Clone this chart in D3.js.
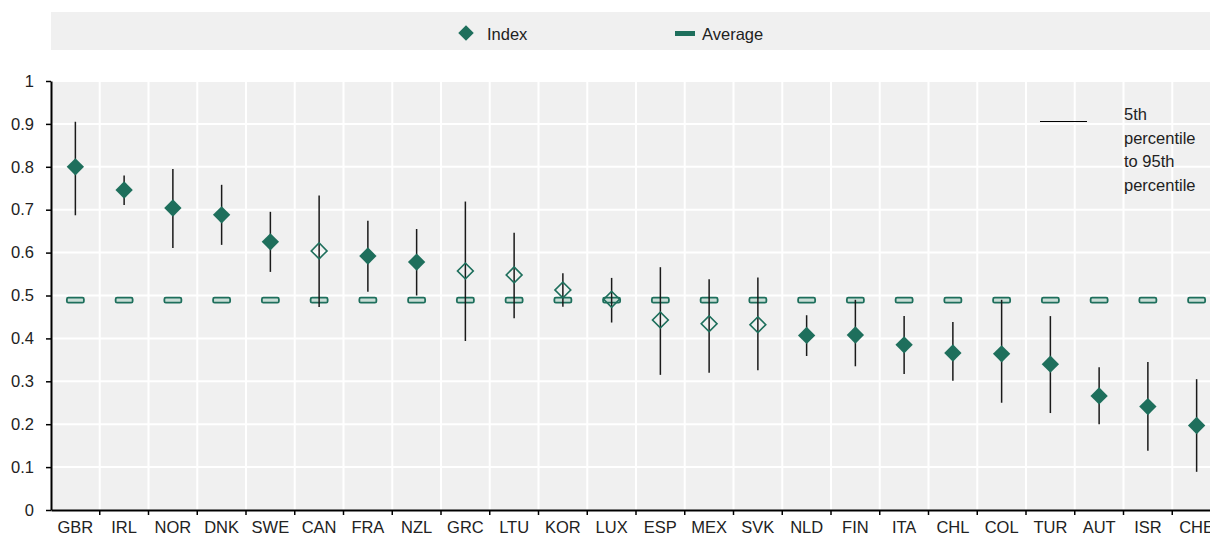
<!DOCTYPE html>
<html>
<head>
<meta charset="utf-8">
<script src="https://cdn.jsdelivr.net/npm/d3@7"></script>
<style>
  body { margin: 0; background: #fff; }
  svg { display: block; font-family: 'Liberation Sans', Arial, sans-serif; }
</style>
</head>
<body>
<svg id="chart" width="1210" height="536"></svg>
<script>
// countries, in the order shown
const countries = ['GBR', 'IRL', 'NOR', 'DNK', 'SWE', 'CAN', 'FRA', 'NZL', 'GRC', 'LTU', 'KOR', 'LUX',
  'ESP', 'MEX', 'SVK', 'NLD', 'FIN', 'ITA', 'CHL', 'COL', 'TUR', 'AUT', 'ISR', 'CHE']
const indexValues = [0.80, 0.746, 0.704, 0.688, 0.625, 0.604, 0.592, 0.578, 0.557, 0.548, 0.513, 0.491,
  0.443, 0.434, 0.432, 0.407, 0.408, 0.385, 0.366, 0.364, 0.340, 0.266, 0.241, 0.197]
const p5 = [0.687, 0.711, 0.611, 0.618, 0.555, 0.473, 0.509, 0.500, 0.394, 0.447, 0.474, 0.437,
  0.315, 0.320, 0.326, 0.359, 0.335, 0.317, 0.301, 0.250, 0.226, 0.200, 0.138, 0.089]
const p95 = [0.905, 0.780, 0.795, 0.758, 0.695, 0.733, 0.674, 0.655, 0.719, 0.646, 0.552, 0.541,
  0.566, 0.538, 0.542, 0.454, 0.490, 0.452, 0.438, 0.490, 0.452, 0.333, 0.345, 0.305]
// hollow marker = not significantly different from average
const hollow = ['CAN', 'GRC', 'LTU', 'KOR', 'LUX', 'ESP', 'MEX', 'SVK']
const average = 0.489
const yTicks = [0, 0.1, 0.2, 0.3, 0.4, 0.5, 0.6, 0.7, 0.8, 0.9, 1]

const green = '#1e6f5c'
const fs = 16.5
const data = countries.map((c, i) => ({ c, v: indexValues[i], lo: p5[i], hi: p95[i], hollow: hollow.includes(c) }))

const svg = d3.select('#chart')
const margin = { left: 51, top: 81, bottom: 26 }
const height = 536 - margin.top - margin.bottom

const x = d3.scaleBand().domain(countries).range([margin.left, margin.left + 24 * 48.75])
const y = d3.scaleLinear().domain([0, 1]).range([margin.top + height, margin.top])

// legend box
svg.append('rect').attr('x', 51).attr('y', 12).attr('width', 1159).attr('height', 38).attr('fill', '#f0f0f0')
svg.append('path').attr('d', d3.symbol().type(d3.symbolSquare).size(120)())
  .attr('transform', 'translate(466,33) rotate(45)').attr('fill', green)
svg.append('text').attr('x', 487).attr('y', 39.5).attr('font-size', fs).attr('fill', '#222').text('Index')
svg.append('rect').attr('x', 675).attr('y', 31).attr('width', 20).attr('height', 5).attr('fill', green)
svg.append('text').attr('x', 702).attr('y', 39.5).attr('font-size', fs).attr('fill', '#222').text('Average')

// plot background + grid
svg.append('rect').attr('x', margin.left).attr('y', margin.top)
  .attr('width', 1210 - margin.left).attr('height', height).attr('fill', '#f0f0f0')
svg.append('g').selectAll('line').data(yTicks.slice(1)).join('line')
  .attr('x1', margin.left).attr('x2', 1210)
  .attr('y1', d => y(d)).attr('y2', d => y(d))
  .attr('stroke', '#fff').attr('stroke-width', 2)
svg.append('g').selectAll('line').data(countries.slice(1)).join('line')
  .attr('x1', d => x(d)).attr('x2', d => x(d))
  .attr('y1', margin.top).attr('y2', margin.top + height)
  .attr('stroke', '#fff').attr('stroke-width', 2)

// percentile note
svg.append('line').attr('x1', 1040).attr('x2', 1087).attr('y1', 121.5).attr('y2', 121.5)
  .attr('stroke', '#000').attr('stroke-width', 1)
svg.append('text').attr('x', 1124).attr('y', 120).attr('font-size', fs).attr('fill', '#222')
  .selectAll('tspan').data(['5th', 'percentile', 'to 95th', 'percentile']).join('tspan')
  .attr('x', 1124).attr('dy', (d, i) => i ? 23.5 : 0).text(d => d)

const cx = d => x(d.c) + x.bandwidth() / 2

// average markers
svg.append('g').selectAll('rect').data(data).join('rect')
  .attr('x', d => cx(d) - 8.5).attr('y', y(average) - 2.5)
  .attr('width', 17).attr('height', 5).attr('rx', 1.5)
  .attr('fill', '#c9ddd6').attr('stroke', green).attr('stroke-width', 1.8)

// 5th-95th ranges
svg.append('g').selectAll('line').data(data).join('line')
  .attr('x1', cx).attr('x2', cx)
  .attr('y1', d => y(d.lo)).attr('y2', d => y(d.hi))
  .attr('stroke', '#1a1a1a').attr('stroke-width', 1.5)

// index markers
svg.append('g').selectAll('path').data(data).join('path')
  .attr('d', d => d3.symbol().type(d3.symbolSquare).size(d.hollow ? 125 : 150)())
  .attr('transform', d => `translate(${cx(d)},${y(d.v)}) rotate(45)`)
  .attr('fill', d => d.hollow ? 'none' : green)
  .attr('stroke', d => d.hollow ? green : 'none')
  .attr('stroke-width', 1.6)

// axes
const yAxis = svg.append('g').attr('transform', `translate(${margin.left},0)`)
  .call(d3.axisLeft(y).tickValues(yTicks).tickFormat(d => d === 0 || d === 1 ? d : d3.format('.1f')(d)).tickSize(5).tickSizeOuter(0))
yAxis.select('.domain').attr('stroke', '#000').attr('stroke-width', 2)
yAxis.selectAll('.tick line').attr('stroke', '#000').attr('stroke-width', 1.5)
yAxis.selectAll('.tick text').attr('x', -17).attr('font-size', fs).attr('fill', '#222').attr('font-family', 'Liberation Sans, Arial, sans-serif')

const xAxis = svg.append('g').attr('transform', `translate(0,${margin.top + height})`)
  .call(d3.axisBottom(x).tickSize(0).tickSizeOuter(0))
xAxis.select('.domain').attr('stroke', '#000').attr('stroke-width', 2)
xAxis.selectAll('.tick text').attr('y', 11).attr('font-size', fs).attr('fill', '#222').attr('font-family', 'Liberation Sans, Arial, sans-serif')
xAxis.append('g').selectAll('line').data(countries.slice(1)).join('line')
  .attr('x1', d => x(d)).attr('x2', d => x(d)).attr('y1', 0).attr('y2', 5)
  .attr('stroke', '#000').attr('stroke-width', 1.5)
</script>
</body>
</html>
